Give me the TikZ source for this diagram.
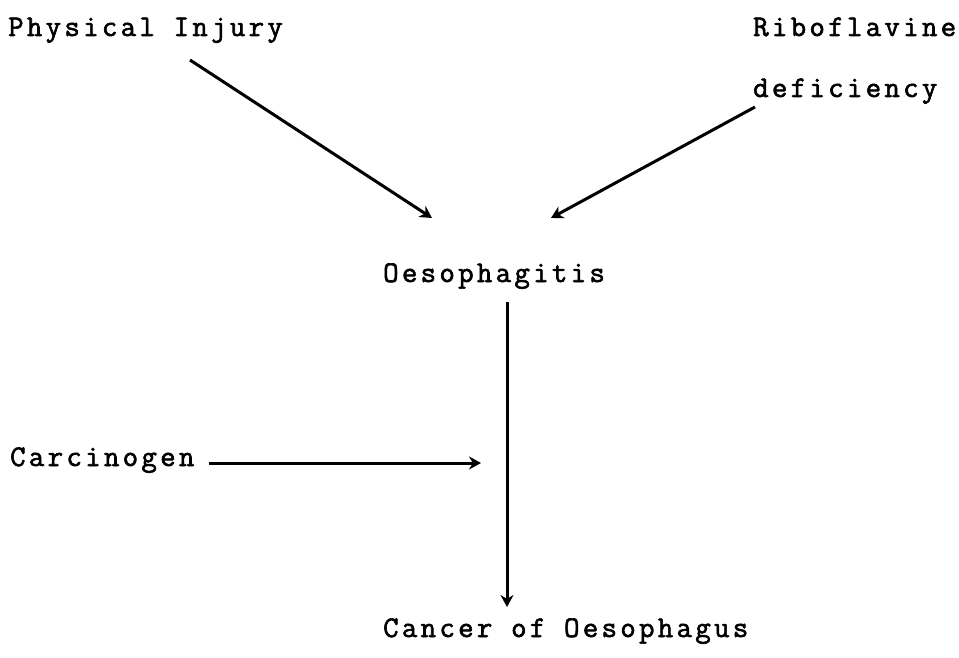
\documentclass[tikz,border=0pt]{standalone}
\usepackage{fontspec}
\newfontfamily\typefont{Latin Modern Mono}[LetterSpace=11,FakeBold=2]
\usetikzlibrary{arrows.meta,positioning}

\begin{document}
\begin{tikzpicture}[
    x=1pt,y=-1pt,
    label/.style={anchor=base west,inner sep=0pt,font=\typefont\fontsize{30}{36}\selectfont},
    link/.style={->,line width=3pt},
    >={Stealth[length=12pt,width=13pt]}
  ]
  \useasboundingbox (0,0) rectangle (959,658);

  % causes
  \node[label] (injury) at (8,36) {Physical Injury};
  \node[label] (ribo) at (753,36) {Riboflavine};
  \node[label] (defic) at (753,97) {deficiency};
  \node[label] (oeso) at (383,282) {Oesophagitis};
  \node[label] (carcin) at (10,466) {Carcinogen};
  \node[label] (cancer) at (383,637) {Cancer of Oesophagus};

  % arrow ends
  \coordinate (injStart) at (190,60);
  \coordinate (injEnd) at (432,218);
  \coordinate (defStart) at (755,107);
  \coordinate (defEnd) at (551,218);
  \coordinate (mainTop) at (507,302);
  \coordinate (mainEnd) at (507,607);
  \coordinate (carEnd) at (481,463);

  % arrows into oesophagitis
  \draw[link] (injStart) -- (injEnd);
  \draw[link] (defStart) -- (defEnd);

  % main line
  \draw[link] (mainTop) -- (mainEnd);

  % carcinogen
  \draw[link] (carcin.east |- carEnd) ++(14,0) -- (carEnd);
\end{tikzpicture}
\end{document}
